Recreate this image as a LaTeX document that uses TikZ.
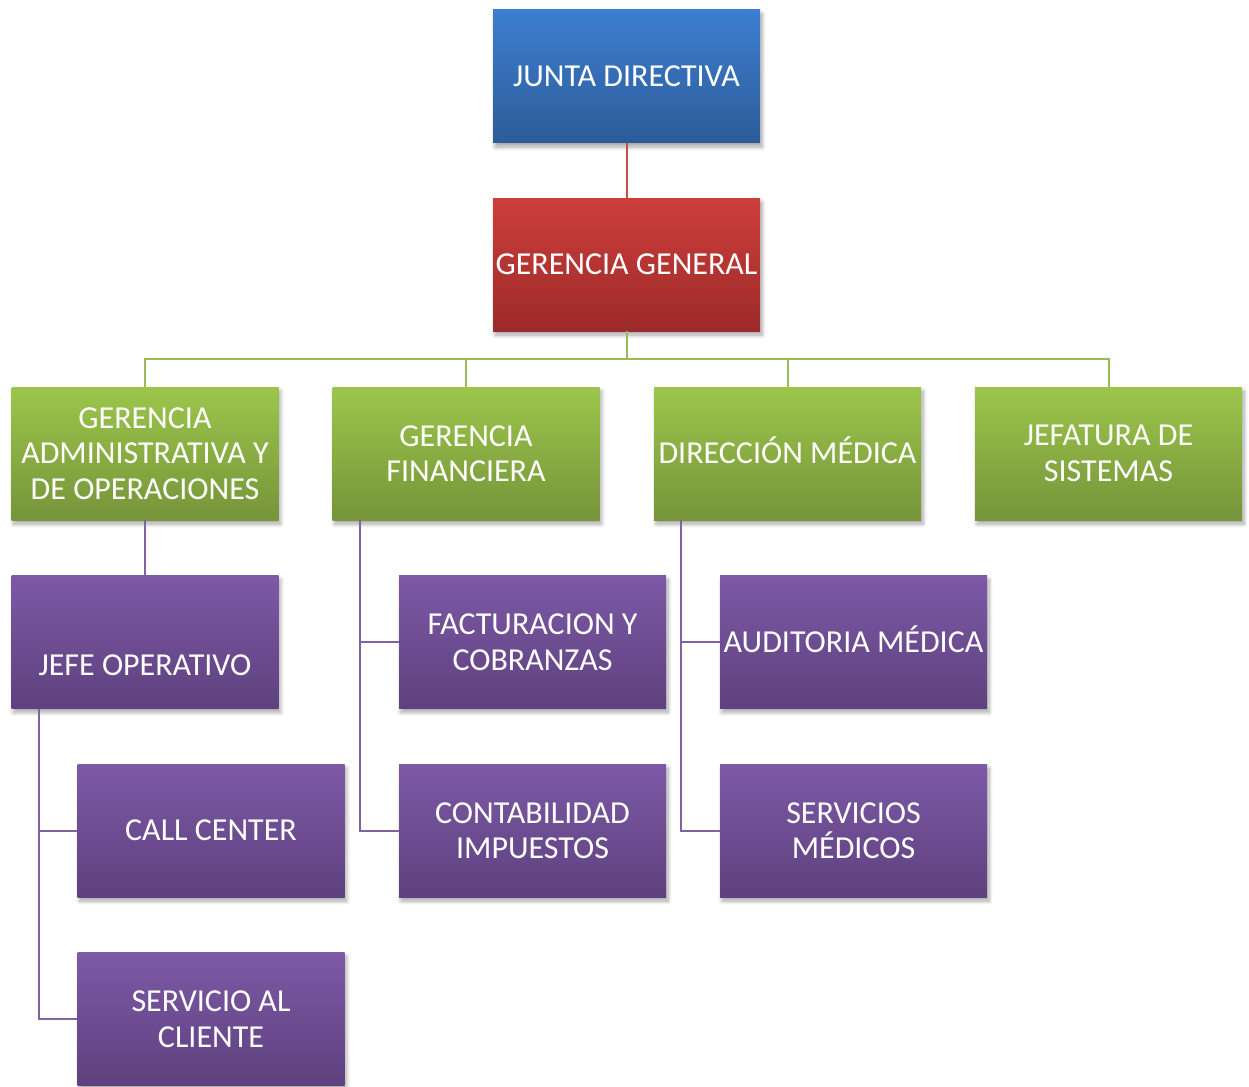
\documentclass[tikz,border=0pt]{standalone}
\usepackage{fontspec}
\setmainfont{Carlito}
\usetikzlibrary{shadows.blur}
\definecolor{bluetop}{HTML}{3D7ED0}
\definecolor{bluebot}{HTML}{2C5C98}
\definecolor{redtop}{HTML}{CD3E3B}
\definecolor{redbot}{HTML}{9C2B29}
\definecolor{greentop}{HTML}{9CC64B}
\definecolor{greenbot}{HTML}{76943A}
\definecolor{purptop}{HTML}{7D59A6}
\definecolor{purpbot}{HTML}{5E417E}
\definecolor{redline}{HTML}{C0504D}
\definecolor{greenline}{HTML}{9BBB59}
\definecolor{purpline}{HTML}{8064A2}
% a line of capitals whose accents do not shift it off centre
\newcommand{\capline}[1]{\raisebox{0pt}[\fontcharht\font`\E][0pt]{#1}}
\tikzset{
  box/.style={rectangle, minimum width=267pt, minimum height=133pt, inner sep=0pt,
    text=white, align=center, font=\fontsize{32}{35.5}\selectfont,
    blur shadow={shadow xshift=2pt, shadow yshift=-4pt, shadow blur steps=8,
      shadow blur radius=4pt, shadow opacity=35}},
  bluebox/.style={box, top color=bluetop, bottom color=bluebot},
  redbox/.style={box, top color=redtop, bottom color=redbot},
  greenbox/.style={box, top color=greentop, bottom color=greenbot},
  purpbox/.style={box, top color=purptop, bottom color=purpbot},
  lbl/.style={text=white, align=center, font=\fontsize{32}{35.5}\selectfont},
  conn/.style={line width=2pt},
}
\begin{document}
\begin{tikzpicture}[x=1pt, y=-1pt]
\useasboundingbox (0,0) rectangle (1249,1086);
\clip (0,0) rectangle (1249,1086);

% branch points of the connectors
\coordinate (bus) at (626.5,359);
\coordinate (adm) at (39,709);
\coordinate (fin) at (360,520);
\coordinate (med) at (681,520);

% top level
\node[bluebox] (jd) at (626.5,76.5) {JUNTA DIRECTIVA};
\node[redbox] (gg) at (626.5,264.5) {GERENCIA GENERAL};

% second level
\node[greenbox] (ga) at (145,453.5) {GERENCIA\\ADMINISTRATIVA Y\\DE OPERACIONES};
\node[greenbox] (gf) at (466,453.5) {GERENCIA\\FINANCIERA};
\node[greenbox] (dm) at (787.5,453.5) {\capline{DIRECCIÓN MÉDICA}};
\node[greenbox] (js) at (1108.5,453.5) {JEFATURA DE\\SISTEMAS};

% third level
\node[purpbox, label={[lbl, yshift=-23pt]center:JEFE OPERATIVO}] (jo) at (145,642) {};
\node[purpbox] (fc) at (532.5,642) {FACTURACION Y\\COBRANZAS};
\node[purpbox] (am) at (853.5,642) {\capline{AUDITORIA MÉDICA}};
\node[purpbox] (cc) at (211,830.5) {CALL CENTER};
\node[purpbox] (ci) at (532.5,830.5) {CONTABILIDAD\\IMPUESTOS};
\node[purpbox] (sm) at (853.5,830.5) {SERVICIOS\\MÉDICOS};
\node[purpbox] (sc) at (211,1019) {SERVICIO AL\\CLIENTE};

\begin{scope}[conn]
  \draw[redline] (jd.south) -- (gg.north);
  \draw[greenline] (gg.south) -- (bus);
  \draw[greenline] (ga.north) |- (bus);
  \draw[greenline] (gf.north) |- (bus);
  \draw[greenline] (dm.north) |- (bus);
  \draw[greenline] (js.north) |- (bus);
  \draw[purpline] (ga.south) -- (jo.north);
  \draw[purpline] (adm) |- (cc.west);
  \draw[purpline] (adm) |- (sc.west);
  \draw[purpline] (fin) |- (fc.west);
  \draw[purpline] (fin) |- (ci.west);
  \draw[purpline] (med) |- (am.west);
  \draw[purpline] (med) |- (sm.west);
\end{scope}
\end{tikzpicture}
\end{document}
